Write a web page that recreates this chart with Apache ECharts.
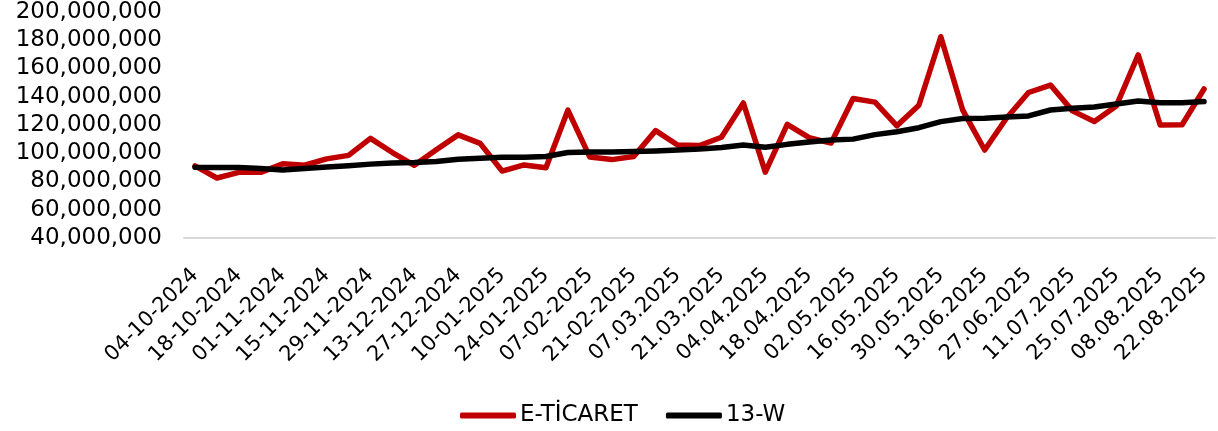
<!DOCTYPE html>
<html>
<head>
<meta charset="utf-8">
<script src="https://cdn.jsdelivr.net/npm/echarts@6/dist/echarts.min.js"></script>
<style>
html,body{margin:0;padding:0;background:#fff;}
#chart{width:1218px;height:431px;}
</style>
</head>
<body>
<div id="chart"></div>
<script>
var categories = [
  "04-10-2024","11-10-2024","18-10-2024","25-10-2024","01-11-2024","08-11-2024","15-11-2024","22-11-2024",
  "29-11-2024","06-12-2024","13-12-2024","20-12-2024","27-12-2024","03-01-2025","10-01-2025","17-01-2025",
  "24-01-2025","31-01-2025","07-02-2025","14-02-2025","21-02-2025","28-02-2025","07.03.2025","14.03.2025",
  "21.03.2025","28.03.2025","04.04.2025","11.04.2025","18.04.2025","25.04.2025","02.05.2025","09.05.2025",
  "16.05.2025","23.05.2025","30.05.2025","06.06.2025","13.06.2025","20.06.2025","27.06.2025","04.07.2025",
  "11.07.2025","18.07.2025","25.07.2025","01.08.2025","08.08.2025","15.08.2025","22.08.2025"
];
// values in millions
var eTicaretM = [
  91, 82.5, 86.5, 86.5, 92.5, 91.5, 96, 98.5,
  110.5, 100.5, 91.5, 102.5, 113, 107, 87.4, 91.7,
  89.7, 130.5, 97.3, 95.5, 97.7, 116, 105.8, 105.5,
  111.3, 135.6, 86.6, 120.5, 111, 107.2, 138.7, 136.2,
  119.4, 134, 182.5, 130.5, 102.3, 125, 143, 148.3,
  130, 122.5, 133.5, 169.6, 120, 120.2, 145.5
];
var w13M = [
  90, 89.9, 90, 89.2, 88.2, 89.2, 90.3, 91.2,
  92.3, 93.1, 93.4, 94.2, 95.8, 96.5, 97.1, 97.2,
  97.7, 100.5, 100.8, 100.8, 101.2, 101.6, 102.3, 103,
  104.1, 105.8, 104.2, 106.3, 108, 109.3, 110, 113.2,
  115.2, 118.1, 122.4, 124.6, 124.8, 125.6, 126.4, 130.6,
  131.9, 132.8, 134.8, 137, 135.8, 135.8, 136.6
];
var seriesNames = ["E-TİCARET", "13-W"];
var yMin = 40000000, yMax = 200000000, yInterval = 20000000;

var toFull = function (arr) { return arr.map(function (v) { return Math.round(v * 1e6); }); };
var fmt = function (v) { return String(v).replace(/\B(?=(\d{3})+(?!\d))/g, ","); };

var chart = echarts.init(document.getElementById('chart'), null, {renderer: 'canvas'});
chart.setOption({
  animation: false,
  backgroundColor: '#ffffff',
  textStyle: {fontFamily: 'DejaVu Sans'},
  grid: {left: 184, right: 3, top: 12, bottom: 193, containLabel: false},
  legend: {
    data: seriesNames,
    bottom: 4,
    left: 460,
    icon: 'roundRect',
    itemWidth: 56,
    itemHeight: 6,
    itemGap: 28,
    padding: 0,
    textStyle: {fontFamily: 'DejaVu Sans', fontSize: 23, color: '#000', width: 128, padding: [0, 0, 0, -1]}
  },
  xAxis: {
    type: 'category',
    data: categories,
    boundaryGap: true,
    axisLine: {lineStyle: {color: '#d9d9d9', width: 2}},
    axisTick: {show: false},
    axisLabel: {
      interval: 1,
      rotate: 45,
      margin: 34,
      fontFamily: 'DejaVu Sans',
      fontSize: 21,
      color: '#000'
    },
    splitLine: {show: false}
  },
  yAxis: {
    type: 'value',
    min: yMin,
    max: yMax,
    interval: yInterval,
    axisLine: {show: false},
    axisTick: {show: false},
    splitLine: {show: false},
    axisLabel: {
      margin: 22,
      fontFamily: 'DejaVu Sans',
      fontSize: 23,
      color: '#000',
      formatter: fmt
    }
  },
  series: [
    {
      name: seriesNames[0],
      type: 'line',
      data: toFull(eTicaretM),
      symbol: 'none',
      smooth: false,
      itemStyle: {color: '#c00000'},
      lineStyle: {color: '#c00000', width: 5.5, cap: 'round', join: 'round'}
    },
    {
      name: seriesNames[1],
      type: 'line',
      data: toFull(w13M),
      symbol: 'none',
      smooth: false,
      itemStyle: {color: '#000000'},
      lineStyle: {color: '#000000', width: 5.5, cap: 'round', join: 'round'}
    }
  ]
});
</script>
</body>
</html>
